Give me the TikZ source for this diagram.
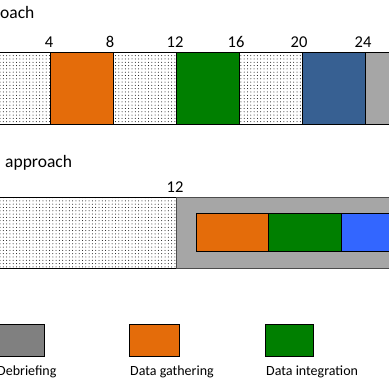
\documentclass[tikz,border=0pt]{standalone}
\usepackage{fontspec}
\setmainfont{Carlito}
\usetikzlibrary{patterns.meta}
\definecolor{corange}{HTML}{E46C0A}
\definecolor{cgreen}{HTML}{007F00}
\definecolor{cdblue}{HTML}{376092}
\definecolor{cgray}{HTML}{A6A6A6}
\definecolor{cdgray}{HTML}{808080}
\definecolor{cblue}{HTML}{3366FF}
\tikzdeclarepattern{name=mydots,type=uncolored,
  bottom left={(-1.65pt,-1.65pt)},top right={(1.65pt,1.65pt)},
  tile size={(3.3pt,3.3pt)},
  code={\fill (0pt,0pt) circle (0.5pt);}}
\begin{document}
\begin{tikzpicture}[x=1pt,y=-1pt,
  seg/.style={draw=black,line width=0.8pt},
  dotseg/.style={seg,pattern=mydots,pattern color=black},
  tick/.style={font=\fontsize{16.5}{18}\selectfont,anchor=base,inner sep=0pt},
  title/.style={font=\fontsize{17.5}{19}\selectfont,anchor=base west,inner sep=0pt},
  lab/.style={font=\fontsize{14}{16}\selectfont,anchor=base west,inner sep=0pt}]
\useasboundingbox (0,0) rectangle (389,389);
% top bar
\node[title] (t1) at (0,18) {oach};
\path[dotseg] (-5,52) rectangle (50,124);
\path[seg,fill=corange] (50,52) rectangle (113,124);
\path[dotseg] (113,52) rectangle (176,124);
\path[seg,fill=cgreen] (176,52) rectangle (239,124);
\path[dotseg] (239,52) rectangle (302,124);
\path[seg,fill=cdblue] (302,52) rectangle (365,124);
\path[seg,fill=cgray] (365,52) rectangle (395,124);
\node[tick] (k4) at (49,47) {4};
\node[tick] (k8) at (110,47) {8};
\node[tick] (k12) at (175,47) {12};
\node[tick] (k16) at (236,47) {16};
\node[tick] (k20) at (299,47) {20};
\node[tick] (k24) at (363,47) {24};
% second bar
\node[title] (t2) at (5,167) {approach};
\path[dotseg] (-5,197) rectangle (176,268);
\path[draw=black!70,line width=0.8pt,fill=cgray] (176,197) rectangle (395,268);
\path[seg,fill=corange] (196,213) rectangle (268,251);
\path[seg,fill=cgreen] (268,213) rectangle (341,251);
\path[seg,fill=cblue] (341,213) rectangle (395,251);
\node[tick] (k12b) at (175,192) {12};
% legend
\path[seg,fill=cdgray] (-5,324) rectangle (44,356);
\path[seg,fill=corange] (129,324) rectangle (179,356);
\path[seg,fill=cgreen] (265,324) rectangle (313,356);
\node[lab] (l1) at (-3,375) {Debriefing};
\node[lab] (l2) at (130,375) {Data gathering};
\node[lab] (l3) at (266,375) {Data integration};
\end{tikzpicture}
\end{document}
